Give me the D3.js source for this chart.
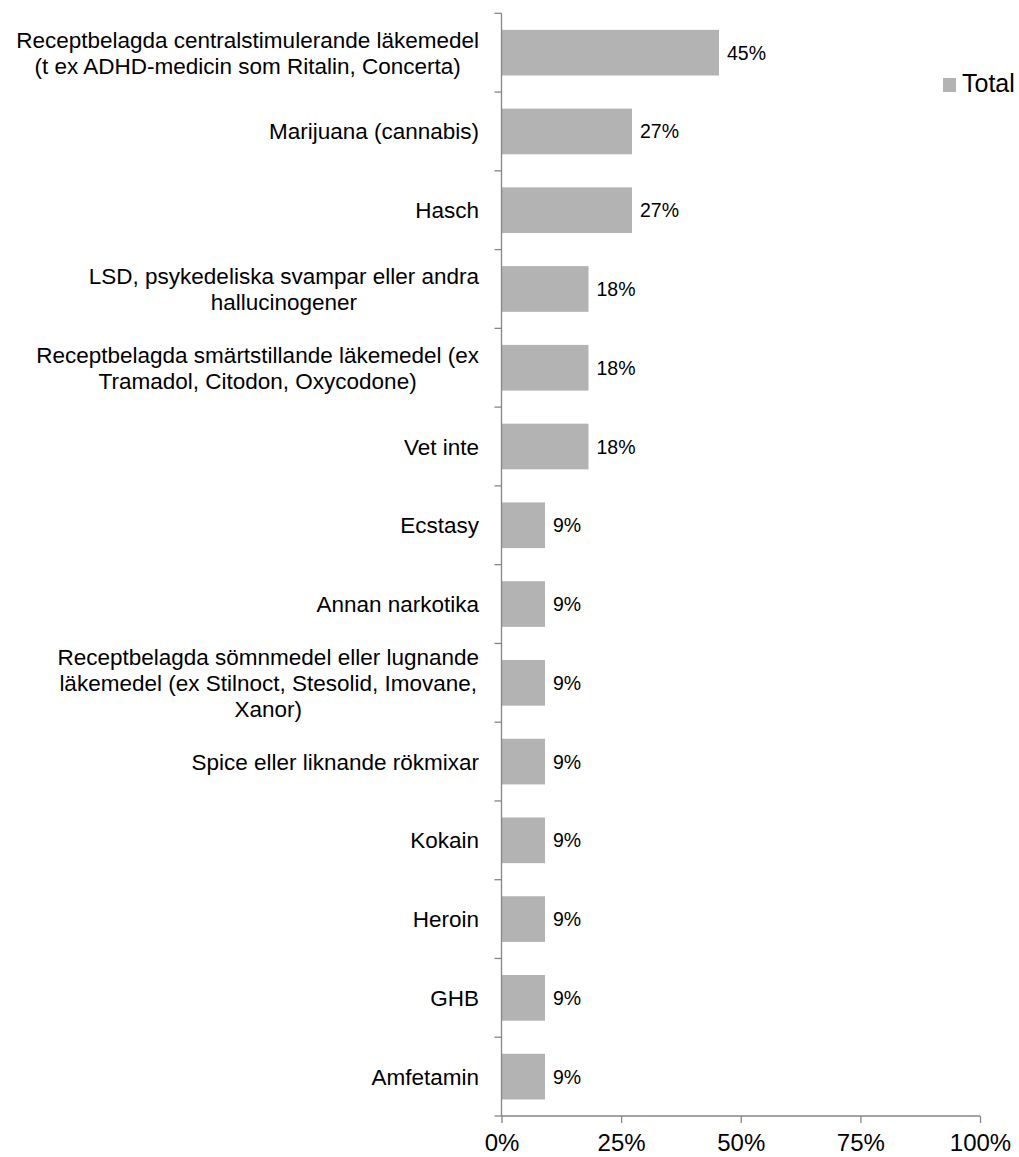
<!DOCTYPE html>
<html>
<head>
<meta charset="utf-8">
<script src="https://cdn.jsdelivr.net/npm/d3@7"></script>
<style>
body { margin: 0; background: #fff; }
svg { display: block; font-family: "Liberation Sans", Arial, sans-serif; }
</style>
</head>
<body>
<svg id="chart" width="1019" height="1157"></svg>
<script>
const categories = [
  ["Receptbelagda centralstimulerande läkemedel", "(t ex ADHD-medicin som Ritalin, Concerta)"],
  ["Marijuana (cannabis)"],
  ["Hasch"],
  ["LSD, psykedeliska svampar eller andra", "hallucinogener"],
  ["Receptbelagda smärtstillande läkemedel (ex", "Tramadol, Citodon, Oxycodone)"],
  ["Vet inte"],
  ["Ecstasy"],
  ["Annan narkotika"],
  ["Receptbelagda sömnmedel eller lugnande", "läkemedel (ex Stilnoct, Stesolid, Imovane,", "Xanor)"],
  ["Spice eller liknande rökmixar"],
  ["Kokain"],
  ["Heroin"],
  ["GHB"],
  ["Amfetamin"]
];
const values = [45.45, 27.27, 27.27, 18.18, 18.18, 18.18, 9.09, 9.09, 9.09, 9.09, 9.09, 9.09, 9.09, 9.09];
const valueLabels = ["45%", "27%", "27%", "18%", "18%", "18%", "9%", "9%", "9%", "9%", "9%", "9%", "9%", "9%"];
const xTicks = [0, 25, 50, 75, 100];
const seriesName = "Total";

(function () {
const svg = d3.select("#chart");
const pLeft = 501.5, pRight = 980, pTop = 13.3, pBottom = 1116;
const axisColor = "#868686";
const barColor = "#b3b3b3";

const x = d3.scaleLinear().domain([0, 100]).range([pLeft, pRight]);
const y = d3.scaleBand().domain(d3.range(categories.length)).range([pTop, pBottom])
  .paddingInner(0.42).paddingOuter(0.21);

// bars
svg.selectAll("rect.bar").data(values).join("rect")
  .attr("class", "bar")
  .attr("x", x(0))
  .attr("y", (d, i) => y(i))
  .attr("width", d => x(d) - x(0))
  .attr("height", y.bandwidth())
  .attr("fill", barColor);

// value labels
svg.selectAll("text.val").data(values).join("text")
  .attr("class", "val")
  .attr("x", d => x(d) + 8)
  .attr("y", (d, i) => y(i) + y.bandwidth() / 2 + 7)
  .attr("font-size", 19.5)
  .attr("fill", "#000")
  .text((d, i) => valueLabels[i]);

// y axis line and ticks at band boundaries
const step = y.step();
const y0 = y(0) - y.paddingOuter() * step;
const boundaries = d3.range(categories.length + 1).map(i => y0 + i * step);
svg.append("line")
  .attr("x1", pLeft).attr("x2", pLeft)
  .attr("y1", pTop).attr("y2", pBottom)
  .attr("stroke", axisColor).attr("stroke-width", 1.3);
svg.selectAll("line.ytick").data(boundaries).join("line")
  .attr("class", "ytick")
  .attr("x1", pLeft - 7).attr("x2", pLeft)
  .attr("y1", d => d).attr("y2", d => d)
  .attr("stroke", axisColor).attr("stroke-width", 1.3);

// x axis
const xAxis = d3.axisBottom(x).tickValues(xTicks).tickSize(7).tickFormat(d => d + "%");
const gx = svg.append("g").attr("transform", `translate(0,${pBottom})`).call(xAxis);
gx.select(".domain").attr("stroke", axisColor).attr("stroke-width", 1.3).attr("d", `M${pLeft},0H${pRight}`);
gx.selectAll(".tick line").attr("stroke", axisColor).attr("stroke-width", 1.3);
gx.selectAll(".tick text").attr("font-size", 24).attr("fill", "#000")
  .attr("font-family", "'Liberation Sans', Arial, sans-serif")
  .attr("y", 35).attr("dy", 0);

// category labels
const labelRight = 479;
const lineH = 26;
categories.forEach((lines, i) => {
  const g = svg.append("g");
  const cy = y(i) + y.bandwidth() / 2;
  const texts = lines.map((ln, j) => g.append("text")
    .attr("font-size", 22.5)
    .attr("fill", "#000")
    .attr("text-anchor", "middle")
    .attr("y", cy + (j - (lines.length - 1) / 2) * lineH + 8)
    .text(ln));
  const maxW = d3.max(texts, t => t.node().getComputedTextLength());
  texts.forEach(t => t.attr("x", labelRight - maxW / 2));
});

// legend
const lg = svg.append("g");
lg.append("rect").attr("x", 943).attr("y", 78).attr("width", 13).attr("height", 14).attr("fill", barColor);
lg.append("text").attr("x", 962).attr("y", 92).attr("font-size", 25).attr("fill", "#000").text(seriesName);
})();
</script>
</body>
</html>
